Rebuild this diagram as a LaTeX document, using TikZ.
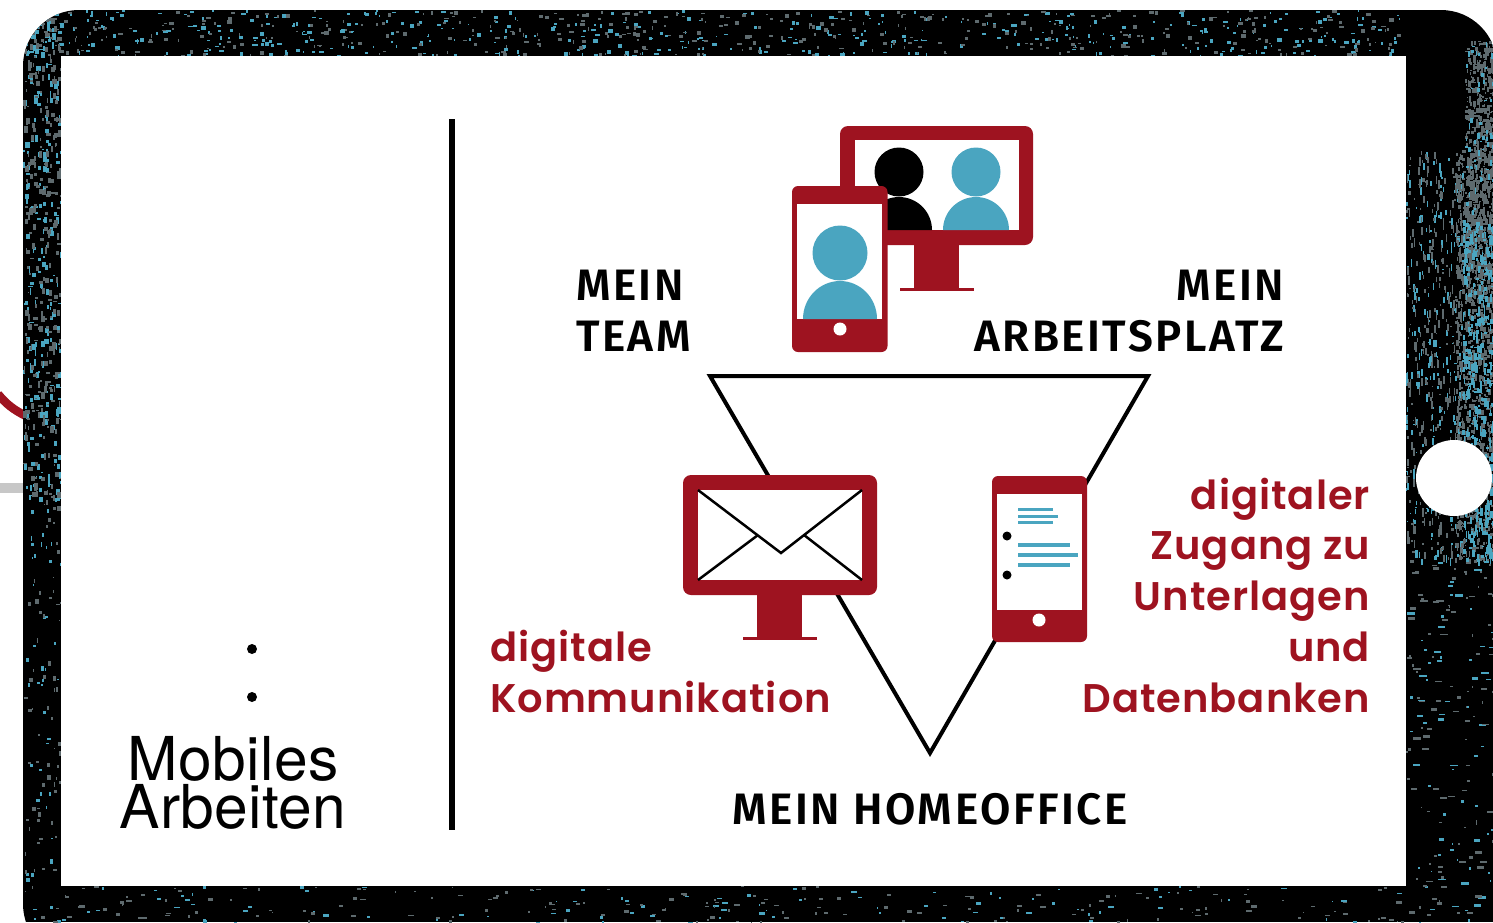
\documentclass[tikz,border=0pt]{standalone}
\usepackage{fontspec}
\setmainfont{Open Sans}
\newfontfamily\dinfont[LetterSpace=5.7,BoldFont={Fira Sans SemiBold}]{Fira Sans}
\newfontfamily\redfont[LetterSpace=2.5,Ligatures=NoCommon,BoldFont={Poppins SemiBold}]{Poppins}
\newfontfamily\titlefont[LetterSpace=0.6]{TeX Gyre Heros}
\definecolor{wine}{HTML}{9E1320}
\definecolor{teal}{HTML}{4AA5C0}
\definecolor{speckgrey}{HTML}{5E6A6E}
\tikzset{
  icon/.style={fill=wine,draw=none},
  screen/.style={fill=white,draw=none},
  tealfill/.style={fill=teal,draw=none},
  blackfill/.style={fill=black,draw=none},
  head/.style={inner sep=0pt,outer sep=0pt,text=black,font=\dinfont\bfseries\fontsize{44}{51}\selectfont},
  redtext/.style={inner sep=0pt,outer sep=0pt,text=wine,font=\redfont\fontsize{40}{50.7}\selectfont\bfseries},
  envline/.style={draw=black,line width=2.5pt,line join=miter},
}
\newcommand{\speckle}[8]{% x0 x1 y0 y1 n colour wmax hmax
  \foreach \i in {1,...,#5}{%
    \pgfmathsetmacro{\sx}{#1+rnd*(#2-#1)}%
    \pgfmathsetmacro{\sy}{#3+rnd*(#4-#3)}%
    \pgfmathsetmacro{\sw}{1+rnd*#7}%
    \pgfmathsetmacro{\sh}{1+rnd*#8}%
    \fill[#6] (\sx,\sy) rectangle ++(\sw,\sh);%
  }}
\begin{document}
\begin{tikzpicture}[x=1pt,y=-1pt]
\pgfmathsetseed{4242}
\useasboundingbox (0,0) rectangle (1493,922);
\fill[white] (0,0) rectangle (1493,922);
% elements behind the tablet
\draw[wine,line width=8.5pt] (-2,394) .. controls (6,404) and (14,410) .. (26,416);
\fill[black!22] (0,483) rectangle (26,493);
% tablet body with speckled texture
\begin{scope}
\clip[rounded corners=56pt] (23,10) rectangle (1497,960);
\fill[black] (0,0) rectangle (1493,922);
\speckle{23}{1400}{10}{56}{420}{teal}{4}{3}
\speckle{23}{1400}{10}{56}{420}{speckgrey}{4}{3}
\speckle{23}{61}{10}{500}{220}{teal}{3.5}{6}
\speckle{23}{61}{10}{500}{300}{speckgrey}{3.5}{6}
\speckle{23}{61}{500}{922}{45}{teal}{3}{4}
\speckle{23}{61}{500}{922}{70}{speckgrey}{3}{4}
\speckle{23}{1406}{886}{922}{90}{teal}{5}{2}
\speckle{23}{1406}{886}{922}{170}{speckgrey}{5}{2}
% right band: streaks, then a mottled outer strip
\speckle{1406}{1462}{150}{560}{240}{teal}{1.5}{8}
\speckle{1406}{1462}{150}{560}{340}{speckgrey}{1.5}{8}
\speckle{1465}{1493}{40}{300}{650}{speckgrey}{2.5}{5}
\speckle{1455}{1493}{150}{560}{1000}{speckgrey}{2.5}{5}
\speckle{1465}{1493}{40}{260}{70}{teal}{2}{5}
\speckle{1462}{1493}{220}{560}{420}{teal}{2.5}{7}
\speckle{1406}{1493}{560}{922}{70}{teal}{7}{2}
\speckle{1406}{1493}{560}{922}{110}{speckgrey}{7}{2}
\end{scope}
\fill[white] (61,56) rectangle (1406,886);
\fill[white] (1454,478) circle (38);
% left panel
\fill[black] (252,649) circle (5);
\fill[black] (252,697) circle (5);
\node[inner sep=0pt,align=center,anchor=base,font=\titlefont\fontsize{60.5}{48}\selectfont] (title) at (233,828) {Mobiles\\Arbeiten};
\fill[black] (449,119) rectangle (455,830);
% triangle
\draw[black,line width=4pt,line join=miter] (710,376) -- (1148,376) -- (930,753) -- cycle;
% top monitor
\fill[icon,rounded corners=8pt] (840,126) rectangle (1033,245);
\fill[screen] (855,140) rectangle (1019,230);
\fill[icon] (914,245) rectangle (959,288);
\fill[icon] (899.5,288) rectangle (974,291);
\fill[blackfill] (899,172) circle (24.5);
\fill[blackfill] (866,230) arc[start angle=180,end angle=360,x radius=33,y radius=33] -- cycle;
\fill[tealfill] (976,172) circle (24.5);
\fill[tealfill] (943,230) arc[start angle=180,end angle=360,x radius=33,y radius=33] -- cycle;
% top phone
\fill[icon,rounded corners=6pt] (792,186) rectangle (887.5,352);
\fill[screen] (797,204) rectangle (882,319);
\fill[tealfill] (840,253) circle (27.5);
\fill[tealfill] (803,319) arc[start angle=180,end angle=360,x radius=37,y radius=38] -- cycle;
\fill[white] (840,329) circle (6.5);
% mail monitor
\fill[icon,rounded corners=8pt] (683,475) rectangle (877,595);
\fill[screen] (698,490) rectangle (862,580);
\fill[icon] (757,595) rectangle (802,637);
\fill[icon] (743,637) rectangle (817,640);
\draw[envline] (698,490) -- (781,553) -- (862,490);
\draw[envline] (698,580) -- (758,535);
\draw[envline] (804,535) -- (862,580);
% document phone
\fill[icon,rounded corners=6pt] (992,476) rectangle (1087,642);
\fill[screen] (997,494) rectangle (1082,610);
\fill[white] (1039,620) circle (6.5);
\fill[tealfill] (1018,508) rectangle (1053,511);
\fill[tealfill] (1018,515) rectangle (1058,518);
\fill[tealfill] (1018,521) rectangle (1053,524);
\fill[tealfill] (1018,543) rectangle (1070,547);
\fill[tealfill] (1018,553) rectangle (1078,557);
\fill[tealfill] (1018,563) rectangle (1070,567);
\fill[black] (1007,536) circle (4.5);
\fill[black] (1007,575) circle (4.5);
% labels
\node[head,align=left,anchor=base west] (team) at (576,351) {MEIN\\TEAM};
\node[head,align=right,anchor=base east] (platz) at (1284,351) {MEIN\\ARBEITSPLATZ};
\node[head,anchor=base] (home) at (930,824) {MEIN HOMEOFFICE};
\node[redtext,align=left,anchor=base west] (komm) at (490,712) {digitale\\Kommunikation};
\node[redtext,align=right,anchor=base east] (zugang) at (1370,712) {digitaler\\Zugang zu\\Unterlagen\\und\\Datenbanken};
\end{tikzpicture}
\end{document}
